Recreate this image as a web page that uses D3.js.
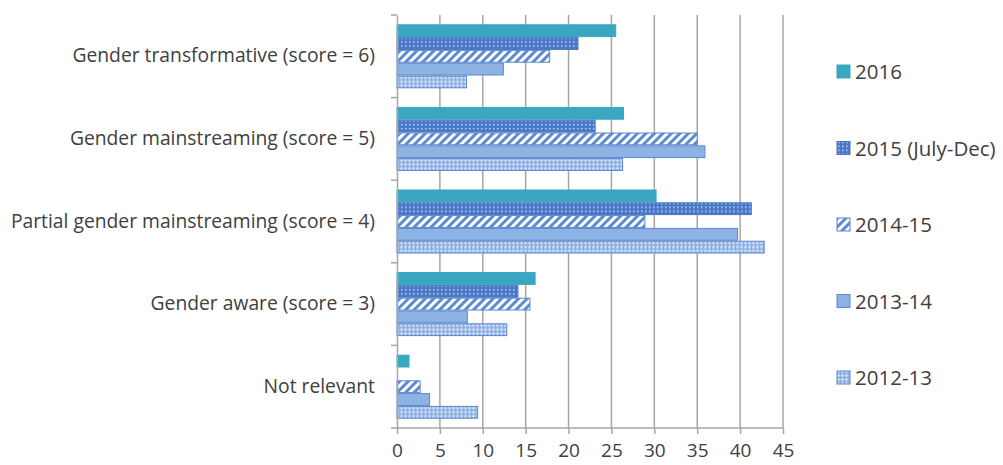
<!DOCTYPE html>
<html>
<head>
<meta charset="utf-8">
<script src="https://cdn.jsdelivr.net/npm/d3@7"></script>
<style>
  html, body { margin: 0; padding: 0; background: #fff; }
  svg { display: block; }
  text { font-family: "Open Sans", Lato, sans-serif; fill: #404040; }
</style>
</head>
<body>
<svg id="chart" width="1003" height="465"></svg>
<script>
// Gender marker scores, share of projects (%) by reporting period
const categories = [
  "Gender transformative (score = 6)",
  "Gender mainstreaming (score = 5)",
  "Partial gender mainstreaming (score = 4)",
  "Gender aware (score = 3)",
  "Not relevant"
];
const seriesNames = ["2016", "2015 (July-Dec)", "2014-15", "2013-14", "2012-13"];
const values2016 = [25.5, 26.4, 30.2, 16.1, 1.4];
const values2015 = [21.1, 23.1, 41.3, 14.1, 0];
const values2014_15 = [17.8, 35.0, 28.9, 15.5, 2.7];
const values2013_14 = [12.4, 35.9, 39.7, 8.2, 3.8];
const values2012_13 = [8.1, 26.3, 42.8, 12.8, 9.4];
const xTicks = [0, 5, 10, 15, 20, 25, 30, 35, 40, 45];

const seriesValues = [values2016, values2015, values2014_15, values2013_14, values2012_13];

const svg = d3.select("#chart");
const plot = { left: 397, right: 783, top: 15, bottom: 428 };

const x = d3.scaleLinear().domain([0, 45]).range([plot.left, plot.right]);
const y0 = d3.scaleBand().domain(categories).range([plot.top, plot.bottom])
  .paddingInner(0.225).paddingOuter(0.1125);
const y1 = d3.scaleBand().domain(seriesNames).range([0, y0.bandwidth()]);

// Fill patterns
const defs = svg.append("defs");
// dark blue with small white dots
const p1 = defs.append("pattern").attr("id", "pat2015").attr("patternUnits", "userSpaceOnUse")
  .attr("width", 4).attr("height", 4);
p1.append("rect").attr("width", 4).attr("height", 4).attr("fill", "#4a78c6");
p1.append("rect").attr("x", 1).attr("y", 1).attr("width", 1.5).attr("height", 1.5).attr("fill", "#c3d6f3");
// white with blue diagonal stripes
const p2 = defs.append("pattern").attr("id", "pat1415").attr("patternUnits", "userSpaceOnUse")
  .attr("width", 6).attr("height", 6).attr("patternTransform", "rotate(45)");
p2.append("rect").attr("width", 6).attr("height", 6).attr("fill", "#ffffff");
p2.append("rect").attr("width", 3).attr("height", 6).attr("fill", "#5d8bd2");
// light blue with white dots
const p3 = defs.append("pattern").attr("id", "pat1213").attr("patternUnits", "userSpaceOnUse")
  .attr("width", 4).attr("height", 4);
p3.append("rect").attr("width", 4).attr("height", 4).attr("fill", "#8fb1e6");
p3.append("rect").attr("x", 0.5).attr("y", 0.5).attr("width", 2).attr("height", 2).attr("fill", "#eef4fd");

const fills = ["#3aa7c0", "url(#pat2015)", "url(#pat1415)", "#8db2e4", "url(#pat1213)"];
const strokes = ["#3aa7c0", "#4a74c2", "#5a86cc", "#5d88cf", "#5a86cc"];

// Gridlines
svg.append("g").selectAll("line").data(xTicks.slice(1)).join("line")
  .attr("x1", d => x(d)).attr("x2", d => x(d))
  .attr("y1", plot.top).attr("y2", plot.bottom)
  .attr("stroke", "#a6a6a6").attr("stroke-width", 1.5);

// Bars
const groups = svg.append("g").selectAll("g").data(categories).join("g")
  .attr("transform", c => `translate(0,${y0(c)})`);
groups.each(function(c, ci) {
  d3.select(this).selectAll("rect")
    .data(seriesNames.map((s, si) => ({ s, si, v: seriesValues[si][ci] })).filter(d => d.v > 0))
    .join("rect")
    .attr("x", x(0))
    .attr("y", d => y1(d.s) + 0.5)
    .attr("width", d => x(d.v) - x(0))
    .attr("height", y1.bandwidth() - 1)
    .attr("fill", d => fills[d.si])
    .attr("stroke", d => strokes[d.si])
    .attr("stroke-width", 1);
});

// Category axis
const yAxis = d3.axisLeft(y0).tickSize(0).tickPadding(22);
const ya = svg.append("g").attr("transform", `translate(${plot.left},0)`).call(yAxis);
ya.select(".domain").attr("stroke", "#a6a6a6").attr("stroke-width", 1.5);
ya.selectAll("text").style("font-size", "19.3px").style("font-family", "'Open Sans', sans-serif").attr("fill", "#404040");
// band boundary ticks
const step = y0.step();
const bounds = categories.map(c => y0(c) - y0.paddingInner() * step / 2).concat([plot.bottom]);
svg.append("g").selectAll("line").data(bounds).join("line")
  .attr("x1", plot.left - 6).attr("x2", plot.left)
  .attr("y1", d => d).attr("y2", d => d)
  .attr("stroke", "#a6a6a6").attr("stroke-width", 1.5);

// Value axis
const xAxis = d3.axisBottom(x).tickValues(xTicks).tickSize(6).tickPadding(10);
const xa = svg.append("g").attr("transform", `translate(0,${plot.bottom})`).call(xAxis);
xa.select(".domain").attr("stroke", "#a6a6a6").attr("stroke-width", 1.5).attr("d", `M${plot.left},0H${plot.right}`);
xa.selectAll(".tick line").attr("stroke", "#a6a6a6").attr("stroke-width", 1.5);
xa.selectAll("text").style("font-size", "19px").style("font-family", "'Open Sans', sans-serif").attr("fill", "#404040");

// Legend
const legendY = d3.scalePoint().domain(seriesNames).range([72, 378]);
const lg = svg.append("g").selectAll("g").data(seriesNames).join("g")
  .attr("transform", s => `translate(837,${legendY(s)})`);
lg.append("rect").attr("x", 0).attr("y", -7).attr("width", 13).attr("height", 13)
  .attr("fill", (s, i) => fills[i]).attr("stroke", (s, i) => strokes[i]);
lg.append("text").attr("x", 18).attr("dy", "0.35em").style("font-size", "20.5px").text(s => s);
</script>
</body>
</html>
